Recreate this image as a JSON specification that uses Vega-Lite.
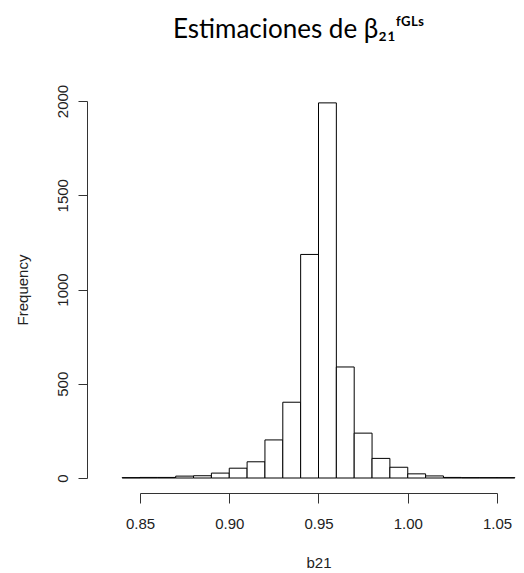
{
  "$schema": "https://vega.github.io/schema/vega-lite/v6.json",
  "autosize": "none",
  "padding": {"left": 140, "top": 101, "right": 27, "bottom": 95},
  "width": 357,
  "height": 377,
  "background": "white",
  "title": {
    "text": "Estimaciones de β₂₁ᶠᴳᴸˢ",
    "font": "Lato",
    "fontSize": 26,
    "fontWeight": "normal",
    "color": "black",
    "anchor": "middle",
    "dx": -20,
    "baseline": "alphabetic",
    "offset": 20
  },
  "data": {
    "values": [
      {"bin_start": 0.84, "bin_end": 0.85, "count": 2},
      {"bin_start": 0.85, "bin_end": 0.86, "count": 3},
      {"bin_start": 0.86, "bin_end": 0.87, "count": 3},
      {"bin_start": 0.87, "bin_end": 0.88, "count": 10},
      {"bin_start": 0.88, "bin_end": 0.89, "count": 12},
      {"bin_start": 0.89, "bin_end": 0.90, "count": 26},
      {"bin_start": 0.90, "bin_end": 0.91, "count": 52},
      {"bin_start": 0.91, "bin_end": 0.92, "count": 86},
      {"bin_start": 0.92, "bin_end": 0.93, "count": 202},
      {"bin_start": 0.93, "bin_end": 0.94, "count": 402},
      {"bin_start": 0.94, "bin_end": 0.95, "count": 1186},
      {"bin_start": 0.95, "bin_end": 0.96, "count": 1990},
      {"bin_start": 0.96, "bin_end": 0.97, "count": 589},
      {"bin_start": 0.97, "bin_end": 0.98, "count": 238},
      {"bin_start": 0.98, "bin_end": 0.99, "count": 104},
      {"bin_start": 0.99, "bin_end": 1.00, "count": 57},
      {"bin_start": 1.00, "bin_end": 1.01, "count": 22},
      {"bin_start": 1.01, "bin_end": 1.02, "count": 11},
      {"bin_start": 1.02, "bin_end": 1.03, "count": 3},
      {"bin_start": 1.03, "bin_end": 1.04, "count": 2},
      {"bin_start": 1.04, "bin_end": 1.05, "count": 2},
      {"bin_start": 1.05, "bin_end": 1.06, "count": 2}
    ]
  },
  "mark": {"type": "rect", "fill": "white", "stroke": "black", "strokeWidth": 1},
  "encoding": {
    "x": {
      "field": "bin_start",
      "type": "quantitative",
      "scale": {"domain": [0.85, 1.05], "nice": false, "zero": false},
      "axis": {
        "title": "b21",
        "values": [0.85, 0.9, 0.95, 1.0, 1.05],
        "format": ".2f",
        "grid": false,
        "offset": 15,
        "labelFlush": false,
        "labelOverlap": false,
        "domainColor": "#333",
        "tickColor": "#333",
        "tickSize": 10,
        "labelFont": "Liberation Sans",
        "labelFontSize": 15,
        "labelColor": "#222",
        "labelPadding": 13,
        "titleFont": "Liberation Sans",
        "titleFontSize": 15,
        "titleFontWeight": "normal",
        "titleColor": "#222",
        "titlePadding": 24
      }
    },
    "x2": {"field": "bin_end"},
    "y": {
      "field": "count",
      "type": "quantitative",
      "scale": {"domain": [0, 2000], "nice": false},
      "axis": {
        "title": "Frequency",
        "values": [0, 500, 1000, 1500, 2000],
        "format": "d",
        "grid": false,
        "offset": 53,
        "labelFlush": false,
        "labelOverlap": false,
        "domainColor": "#333",
        "tickColor": "#333",
        "tickSize": 9,
        "labelAngle": -90,
        "labelAlign": "center",
        "labelBaseline": "bottom",
        "labelFont": "Liberation Sans",
        "labelFontSize": 15,
        "labelColor": "#222",
        "labelPadding": 8,
        "titleFont": "Liberation Sans",
        "titleFontSize": 15,
        "titleFontWeight": "normal",
        "titleColor": "#222",
        "titlePadding": 25
      }
    },
    "y2": {"datum": 0}
  },
  "config": {"view": {"stroke": null}}
}
